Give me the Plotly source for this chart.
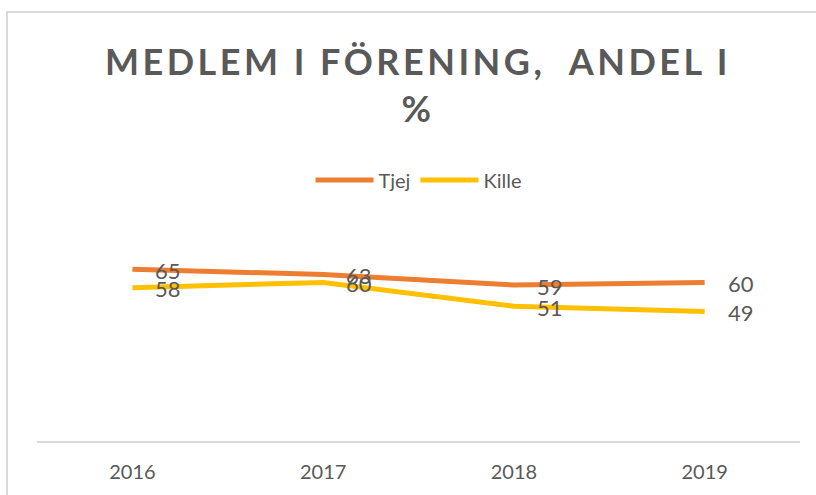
import plotly.graph_objects as go

years = ["2016", "2017", "2018", "2019"]
tjej = [65, 63, 59, 60]
kille = [58, 60, 51, 49]
series_names = ["Tjej", "Kille"]
title_text = "MEDLEM I FÖRENING,  ANDEL I<br>%"

C_TJEJ = "#ED7D31"
C_KILLE = "#FFC000"
GRAY = "#595959"
FONT = "Lato, Open Sans, sans-serif"

W, H = 816, 495
L, R, T, B = 37, 816 - 800, 256, 495 - 441
pw, ph = W - L - R, H - T - B

def px_x(p):
    return (p - L) / pw

def px_y(p):
    return (H - B - p) / ph

fig = go.Figure()
for name, vals, col in [(series_names[0], tjej, C_TJEJ), (series_names[1], kille, C_KILLE)]:
    fig.add_trace(go.Scatter(x=years, y=vals, name=name, mode="lines",
                             line=dict(color=col, width=5)))

annotations = []
for vals in (tjej, kille):
    for i, v in enumerate(vals):
        annotations.append(dict(x=i, y=v, xref="x", yref="y", text=str(v),
                                showarrow=False, xanchor="center", yanchor="middle",
                                xshift=36, yshift=-1,
                                font=dict(family=FONT, size=22, color=GRAY)))

fig.update_layout(
    width=W, height=H,
    margin=dict(l=L, r=R, t=T, b=B),
    paper_bgcolor="white", plot_bgcolor="white",
    title=dict(text=title_text, x=418 / W, xanchor="center", xref="container",
               y=1 - 75 / H, yanchor="top", yref="container",
               font=dict(family=FONT, size=36, color=GRAY, weight="bold")),
    legend=dict(orientation="h", x=0.5, xanchor="center", y=px_y(180), yanchor="middle",
                font=dict(family=FONT, size=20, color=GRAY), itemwidth=58,
                bgcolor="rgba(0,0,0,0)"),
    xaxis=dict(type="category", range=[-0.5, 3.5], showline=True, linecolor="#D9D9D9",
               linewidth=2, showgrid=False, ticks="", zeroline=False,
               tickfont=dict(family=FONT, size=20, color=GRAY), ticklabelstandoff=12),
    yaxis=dict(range=[0, 70], visible=False, showgrid=False, zeroline=False),
    annotations=annotations,
    shapes=[dict(type="rect", xref="paper", yref="paper",
                 x0=px_x(7), x1=px_x(830), y0=px_y(510), y1=px_y(12),
                 line=dict(color="#D9D9D9", width=2), fillcolor="rgba(0,0,0,0)", layer="below")],
)

post = """
document.body.style.margin = '0';
var t = document.querySelectorAll('.gtitle, .gtitle tspan');
t.forEach(function(e){ e.style.letterSpacing = '3.5px'; });
"""

fig.write_html("out.html", post_script=post, config={"displayModeBar": False})
